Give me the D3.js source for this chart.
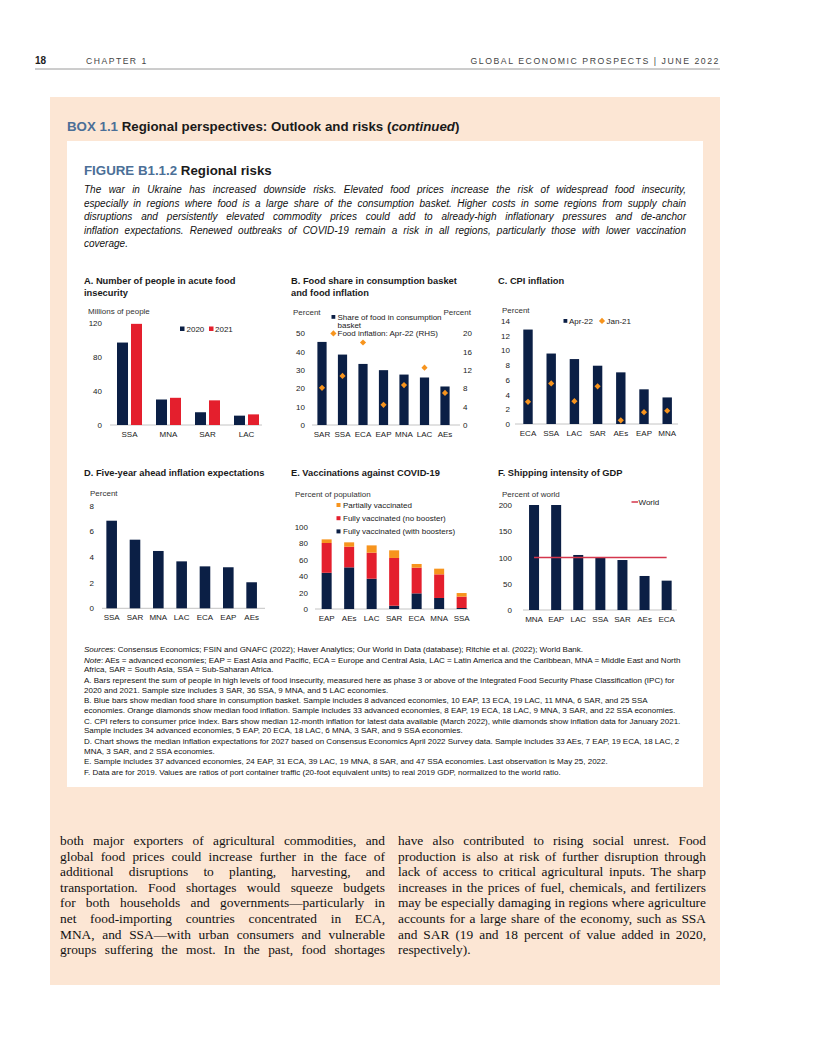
<!DOCTYPE html>
<html><head><meta charset="utf-8">
<script src="https://cdn.jsdelivr.net/npm/d3@7"></script>
<style>body{margin:0;background:#fff}svg{display:block}</style>
</head><body>
<script>
// ---------------- DATA ----------------
const aCategories = ["SSA","MNA","SAR","LAC"];
const aSeries = ["2020","2021"];
const a2020 = [97,30,15,11];
const a2021 = [119,32,29,12.5];
const aTicks = [0,40,80,120];

const bCategories = ["SAR","SSA","ECA","EAP","MNA","LAC","AEs"];
const bFoodShare = [45.3,38.4,33.3,29.9,27.5,25.9,21];
const bFoodInflation = [8.1,10.7,18,4.4,8.7,12.5,7];
const bTicksL = [0,10,20,30,40,50];
const bTicksR = [0,4,8,12,16,20];

const cCategories = ["ECA","SSA","LAC","SAR","AEs","EAP","MNA"];
const cApr22 = [12.8,9.55,8.8,7.9,7.0,4.7,3.6];
const cJan21 = [3.0,5.5,3.1,5.1,0.5,1.6,1.8];
const cTicks = [0,2,4,6,8,10,12,14];

const dCategories = ["SSA","SAR","MNA","LAC","ECA","EAP","AEs"];
const dExpectations = [6.83,5.35,4.47,3.66,3.27,3.2,2.03];
const dTicks = [0,2,4,6,8];

const eCategories = ["EAP","AEs","LAC","SAR","ECA","MNA","SSA"];
const eBoosters = [44,50.6,36.8,4,19,13.4,1.2];
const eNoBooster = [36.2,25.1,31.6,58,31.2,28.7,13.8];
const ePartial = [4.4,5.3,8.9,9.3,4.5,6.9,4.4];
const eTicks = [0,20,40,60,80,100];

const fCategories = ["MNA","EAP","LAC","SSA","SAR","AEs","ECA"];
const fShipping = [200,200,104.8,99.7,95.2,64.8,55.9];
const fWorld = 100;
const fTicks = [0,50,100,150,200];

const introLines = [
 "The war in Ukraine has increased downside risks. Elevated food prices increase the risk of widespread food insecurity,",
 "especially in regions where food is a large share of the consumption basket. Higher costs in some regions from supply chain",
 "disruptions and persistently elevated commodity prices could add to already-high inflationary pressures and de-anchor",
 "inflation expectations. Renewed outbreaks of COVID-19 remain a risk in all regions, particularly those with lower vaccination",
 "coverage."
];
const noteLines = [
 {it:"Sources", t:": Consensus Economics; FSIN and GNAFC (2022); Haver Analytics; Our World in Data (database); Ritchie et al. (2022); World Bank.", gap:0},
 {it:"Note", t:": AEs = advanced economies; EAP = East Asia and Pacific, ECA = Europe and Central Asia, LAC = Latin America and the Caribbean, MNA = Middle East and North", gap:1},
 {it:"", t:"Africa, SAR = South Asia, SSA = Sub-Saharan Africa.", gap:0},
 {it:"", t:"A. Bars represent the sum of people in high levels of food insecurity, measured here as phase 3 or above of the Integrated Food Security Phase Classification (IPC) for", gap:1},
 {it:"", t:"2020 and 2021. Sample size includes 3 SAR, 36 SSA, 9 MNA, and 5 LAC economies.", gap:0},
 {it:"", t:"B. Blue bars show median food share in consumption basket. Sample includes 8 advanced economies, 10 EAP, 13 ECA, 19 LAC, 11 MNA, 6 SAR, and 25 SSA", gap:1},
 {it:"", t:"economies. Orange diamonds show median food inflation. Sample includes 33 advanced economies, 8 EAP, 19 ECA, 18 LAC, 9 MNA, 3 SAR, and 22 SSA economies.", gap:0},
 {it:"", t:"C. CPI refers to consumer price index. Bars show median 12-month inflation for latest data available (March 2022), while diamonds show inflation data for January 2021.", gap:1},
 {it:"", t:"Sample includes 34 advanced economies, 5 EAP, 20 ECA, 18 LAC, 6 MNA, 3 SAR, and 9 SSA economies.", gap:0},
 {it:"", t:"D. Chart shows the median inflation expectations for 2027 based on Consensus Economics April 2022 Survey data. Sample includes 33 AEs, 7 EAP, 19 ECA, 18 LAC, 2", gap:1},
 {it:"", t:"MNA, 3 SAR, and 2 SSA economies.", gap:0},
 {it:"", t:"E. Sample includes 37 advanced economies, 24 EAP, 31 ECA, 39 LAC, 19 MNA, 8 SAR, and 47 SSA economies. Last observation is May 25, 2022.", gap:1},
 {it:"", t:"F. Data are for 2019. Values are ratios of port container traffic (20-foot equivalent units) to real 2019 GDP, normalized to the world ratio.", gap:1}
];
const bodyLeft = [
 "both major exporters of agricultural commodities, and",
 "global food prices could increase further in the face of",
 "additional disruptions to planting, harvesting, and",
 "transportation. Food shortages would squeeze budgets",
 "for both households and governments\u2014particularly in",
 "net food-importing countries concentrated in ECA,",
 "MNA, and SSA\u2014with urban consumers and vulnerable",
 "groups suffering the most. In the past, food shortages"
];
const bodyRight = [
 "have also contributed to rising social unrest. Food",
 "production is also at risk of further disruption through",
 "lack of access to critical agricultural inputs. The sharp",
 "increases in the prices of fuel, chemicals, and fertilizers",
 "may be especially damaging in regions where agriculture",
 "accounts for a large share of the economy, such as SSA",
 "and SAR (19 and 18 percent of value added in 2020,",
 "respectively)."
];

// ---------------- STYLE ----------------
const SANS = '"Liberation Sans", Arial, sans-serif';
const SERIF = '"Liberation Serif", "Times New Roman", serif';
const NAVY = '#0b1f45', RED = '#e41f2d', ORANGE = '#f7941d', WORLD = '#d4364c';
const PEACH = '#fce6d4', BLUE = '#4b6f97', TXT = '#1a1a1a', AXIS = '#c4c4c4';
const FS = 8;   // chart label size

const svg = d3.select('body').append('svg').attr('width',816).attr('height',1056);

function txt(x,y,s,o={}){
  const t = svg.append('text').attr('x',x).attr('y',y).text(s)
    .attr('font-family',o.ff||SANS).attr('font-size',o.fs||FS).attr('fill',o.fill||TXT);
  if(o.fw) t.attr('font-weight',o.fw);
  if(o.st) t.attr('font-style',o.st);
  if(o.anchor) t.attr('text-anchor',o.anchor);
  if(o.ls) t.attr('letter-spacing',o.ls);
  return t;
}
function justify(t,width){
  const n=t.node(); const len=n.getComputedTextLength();
  const sp=(n.textContent.match(/ /g)||[]).length;
  if(sp>0) t.attr('word-spacing',(width-len)/sp);
}

// ---------------- PAGE ----------------
txt(35,64,"18",{fs:10,fw:'bold',fill:'#222'});
txt(86,64,"CHAPTER 1",{fs:8.6,ls:1.5,fill:'#444'});
txt(720,64,"GLOBAL ECONOMIC PROSPECTS | JUNE 2022",{fs:8.7,ls:1.55,fill:'#444',anchor:'end'});
svg.append('line').attr('x1',35).attr('x2',720).attr('y1',69).attr('y2',69).attr('stroke','#9a9a9a').attr('stroke-width',1);

svg.append('rect').attr('x',50).attr('y',97).attr('width',670).attr('height',888).attr('fill',PEACH);
svg.append('rect').attr('x',67).attr('y',141).attr('width',636).attr('height',646).attr('fill','#fff');

const bt = txt(67,131,"",{fs:13.3,fw:'bold'});
bt.append('tspan').attr('fill',BLUE).text("BOX 1.1 ");
bt.append('tspan').text("Regional perspectives: Outlook and risks (");
bt.append('tspan').attr('font-style','italic').text("continued");
bt.append('tspan').text(")");

const ft = txt(84,175,"",{fs:13.3,fw:'bold'});
ft.append('tspan').attr('fill',BLUE).text("FIGURE B1.1.2 ");
ft.append('tspan').text("Regional risks");

introLines.forEach((l,i)=>{
  const t = txt(84,193+i*13.6,l,{fs:10,st:'italic',fill:'#111'});
  if(i<introLines.length-1) justify(t,602);
});

// ---------------- PANEL HELPER ----------------
function panel(o){
  const x = d3.scaleBand().domain(o.cats).range(o.xr);
  const y = d3.scaleLinear().domain(o.yd).range(o.yr);
  const cx = c => x(c)+x.bandwidth()/2;
  const ax = svg.append('g').attr('transform',`translate(${o.tickX},0)`)
    .call(d3.axisLeft(y).tickValues(o.ticks).tickSize(0).tickPadding(0));
  ax.select('.domain').remove();
  ax.attr('font-family',SANS).attr('font-size',FS);
  ax.selectAll('text').attr('fill',TXT);
  svg.append('line').attr('x1',o.ax[0]).attr('x2',o.ax[1]).attr('y1',y(0)).attr('y2',y(0))
    .attr('stroke',AXIS).attr('stroke-width',1);
  const bx = svg.append('g').attr('transform',`translate(0,${y(0)})`)
    .call(d3.axisBottom(x).tickSize(0).tickPadding(o.pad||6.5));
  bx.select('.domain').remove();
  bx.attr('font-family',SANS).attr('font-size',FS);
  bx.selectAll('text').attr('fill',TXT);
  return {x,y,cx};
}
function title(x,y,lines){ lines.forEach((l,i)=>txt(x,y+i*11.5,l,{fs:9.3,fw:'bold'})); }
const diamond = d3.symbol().type(d3.symbolSquare).size(19);
function drawDiamond(x,y){
  svg.append('path').attr('d',diamond()).attr('transform',`translate(${x},${y}) rotate(45)`).attr('fill',ORANGE);
}

// ---------------- A ----------------
title(84,284,["A. Number of people in acute food","insecurity"]);
txt(88,314,"Millions of people",{fill:'#333'});
{
  const p = panel({cats:aCategories,xr:[110,266],yd:[0,120],yr:[425,323],ticks:aTicks,tickX:102,ax:[110,262]});
  const inner = d3.scaleBand().domain(aSeries).range([-12.5,12.5]).paddingInner(0.214);
  const vals = {"2020":a2020,"2021":a2021}, cols={"2020":NAVY,"2021":RED};
  aSeries.forEach(s=>{
    svg.append('g').selectAll('rect').data(aCategories).join('rect')
      .attr('x',(c)=>p.cx(c)+inner(s)).attr('width',inner.bandwidth())
      .attr('y',(c,i)=>p.y(vals[s][i])).attr('height',(c,i)=>p.y(0)-p.y(vals[s][i]))
      .attr('fill',cols[s]);
  });
  svg.append('rect').attr('x',180).attr('y',326.5).attr('width',4.5).attr('height',4.5).attr('fill',NAVY);
  txt(186.5,331.8,"2020");
  svg.append('rect').attr('x',209).attr('y',326.5).attr('width',4.5).attr('height',4.5).attr('fill',RED);
  txt(215,331.8,"2021");
}

// ---------------- B ----------------
title(291,284,["B. Food share in consumption basket","and food inflation"]);
txt(293,315,"Percent",{fill:'#333'});
txt(471,315,"Percent",{fill:'#333',anchor:'end'});
{
  const p = panel({cats:bCategories,xr:[311.75,455.25],yd:[0,50],yr:[425,333.3],ticks:bTicksL,tickX:305,ax:[312,460]});
  const yR = d3.scaleLinear().domain([0,20]).range([425,333.3]);
  const axR = svg.append('g').attr('transform','translate(463,0)')
    .call(d3.axisRight(yR).tickValues(bTicksR).tickSize(0).tickPadding(0));
  axR.select('.domain').remove();
  axR.attr('font-family',SANS).attr('font-size',FS); axR.selectAll('text').attr('fill',TXT);
  svg.append('g').selectAll('rect').data(bCategories).join('rect')
    .attr('x',c=>p.cx(c)-4.6).attr('width',9.2)
    .attr('y',(c,i)=>p.y(bFoodShare[i])).attr('height',(c,i)=>p.y(0)-p.y(bFoodShare[i]))
    .attr('fill',NAVY);
  bCategories.forEach((c,i)=>drawDiamond(p.cx(c),yR(bFoodInflation[i])));
  svg.append('rect').attr('x',331.5).attr('y',315).attr('width',3.8).attr('height',3.8).attr('fill',NAVY);
  txt(337.5,319.7,"Share of food in consumption");
  txt(337.5,328,"basket");
  drawDiamond(333.4,333.4);
  txt(337.5,336.4,"Food inflation: Apr-22 (RHS)");
}

// ---------------- C ----------------
title(498,284,["C. CPI inflation"]);
txt(502,313,"Percent",{fill:'#333'});
{
  const p = panel({cats:cCategories,xr:[516.4,678.8],yd:[0,14],yr:[424,320.7],ticks:cTicks,tickX:510,ax:[515,678]});
  svg.append('g').selectAll('rect').data(cCategories).join('rect')
    .attr('x',c=>p.cx(c)-4.7).attr('width',9.4)
    .attr('y',(c,i)=>p.y(cApr22[i])).attr('height',(c,i)=>p.y(0)-p.y(cApr22[i]))
    .attr('fill',NAVY);
  cCategories.forEach((c,i)=>drawDiamond(p.cx(c),p.y(cJan21[i])));
  svg.append('rect').attr('x',563.5).attr('y',319).attr('width',3.8).attr('height',3.8).attr('fill',NAVY);
  txt(569,323.6,"Apr-22");
  drawDiamond(602,320.9);
  txt(606.5,323.6,"Jan-21");
}

// ---------------- D ----------------
title(84,476,["D. Five-year ahead inflation expectations"]);
txt(90,496,"Percent",{fill:'#333'});
{
  const p = panel({cats:dCategories,xr:[100,263.3],yd:[0,8],yr:[608.3,505.7],ticks:dTicks,tickX:94,ax:[102,265]});
  svg.append('g').selectAll('rect').data(dCategories).join('rect')
    .attr('x',c=>p.cx(c)-5.3).attr('width',10.6)
    .attr('y',(c,i)=>p.y(dExpectations[i])).attr('height',(c,i)=>p.y(0)-p.y(dExpectations[i]))
    .attr('fill',NAVY);
}

// ---------------- E ----------------
title(291,476,["E. Vaccinations against COVID-19"]);
txt(295,497,"Percent of population",{fill:'#333'});
{
  const p = panel({cats:eCategories,xr:[315.4,472.9],yd:[0,100],yr:[609,526.7],ticks:eTicks,tickX:308,ax:[315,468]});
  const keys = ["boost","nob","part"];
  const rows = eCategories.map((c,i)=>({cat:c,boost:eBoosters[i],nob:eNoBooster[i],part:ePartial[i]}));
  const stack = d3.stack().keys(keys)(rows);
  const colors = {boost:NAVY,nob:RED,part:ORANGE};
  svg.append('g').selectAll('g').data(stack).join('g').attr('fill',d=>colors[d.key])
    .selectAll('rect').data(d=>d).join('rect')
    .attr('x',d=>p.cx(d.data.cat)-5).attr('width',10)
    .attr('y',d=>p.y(d[1])).attr('height',d=>p.y(d[0])-p.y(d[1]));
  const leg = [["Partially vaccinated",ORANGE],["Fully vaccinated (no booster)",RED],["Fully vaccinated (with boosters)",NAVY]];
  leg.forEach((l,i)=>{
    svg.append('rect').attr('x',336.5).attr('y',503+i*13.2).attr('width',4).attr('height',4).attr('fill',l[1]);
    txt(343,507.8+i*13.2,l[0]);
  });
}

// ---------------- F ----------------
title(498,476,["F. Shipping intensity of GDP"]);
txt(502,497,"Percent of world",{fill:'#333'});
{
  const p = panel({cats:fCategories,xr:[523,677.7],yd:[0,200],yr:[610,505],ticks:fTicks,tickX:512,ax:[523,677]});
  svg.append('g').selectAll('rect').data(fCategories).join('rect')
    .attr('x',c=>p.cx(c)-5).attr('width',10)
    .attr('y',(c,i)=>p.y(fShipping[i])).attr('height',(c,i)=>p.y(0)-p.y(fShipping[i]))
    .attr('fill',NAVY);
  svg.append('line').attr('x1',p.cx(fCategories[0])).attr('x2',p.cx(fCategories[fCategories.length-1]))
    .attr('y1',p.y(fWorld)).attr('y2',p.y(fWorld)).attr('stroke',WORLD).attr('stroke-width',1.5);
  svg.append('line').attr('x1',631.5).attr('x2',638).attr('y1',502).attr('y2',502).attr('stroke',WORLD).attr('stroke-width',1.5);
  txt(638.5,504.8,"World");
}

// ---------------- NOTES ----------------
{
  let y = 652;
  noteLines.forEach((n,i)=>{
    if(i>0) y += 9.5 + (n.gap?1.3:0);
    const t = txt(84,y,"",{fs:8,fill:'#111'});
    if(n.it) t.append('tspan').attr('font-style','italic').text(n.it);
    t.append('tspan').text(n.t);
  });
}

// ---------------- BODY TEXT ----------------
function bodyCol(lines,x,w,justLast){
  lines.forEach((l,i)=>{
    const t = txt(x,845+i*15.6,l,{ff:SERIF,fs:13.4,fill:'#111'});
    if(i<lines.length-1 || justLast) justify(t,w);
  });
}
bodyCol(bodyLeft,60,325,true);
bodyCol(bodyRight,398,308,false);
</script>
</body></html>
